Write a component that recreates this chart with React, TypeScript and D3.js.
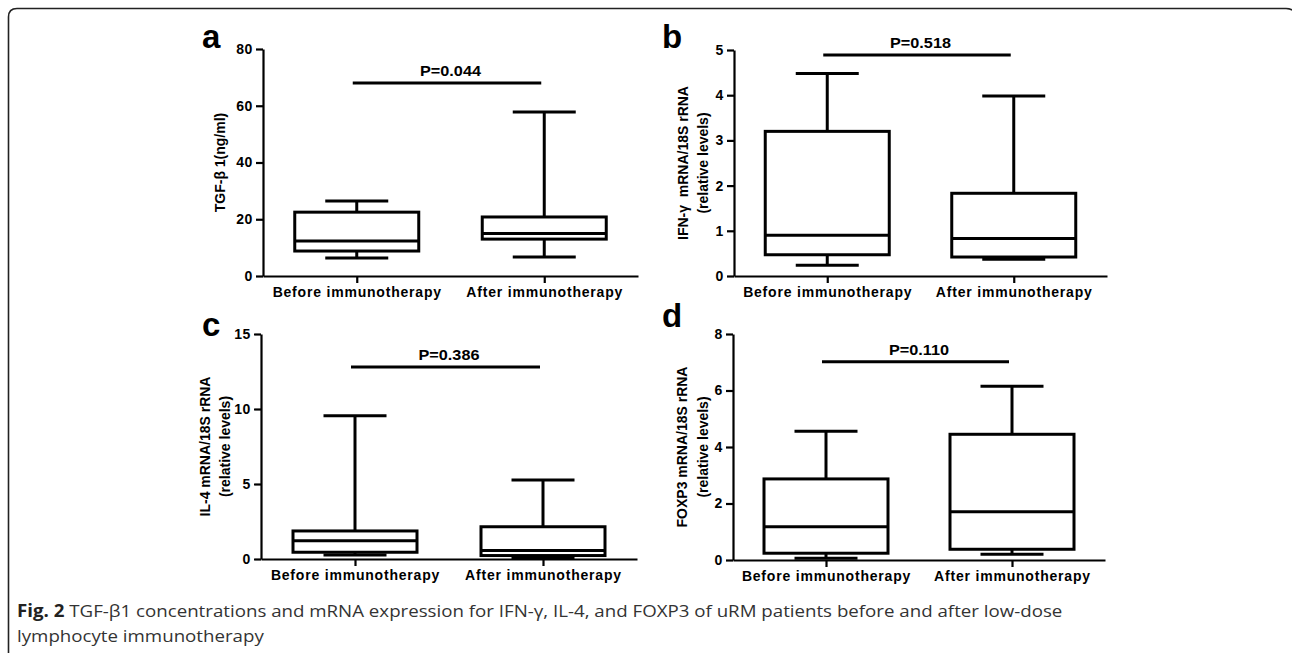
import React, { useEffect, useRef } from 'react';
import * as d3 from 'd3';

const W = 1292;
const H = 653;

const groups = ['Before immunotherapy', 'After immunotherapy'];
const panelLetters = ['a', 'b', 'c', 'd'];
const yLabels = [
  ['TGF-β 1(ng/ml)'],
  ['IFN-γ  mRNA/18S rRNA', '(relative levels)'],
  ['IL-4 mRNA/18S rRNA', '(relative levels)'],
  ['FOXP3 mRNA/18S rRNA', '(relative levels)'],
];
const yMax = [80, 5, 15, 8];
const yTicks = [
  [0, 20, 40, 60, 80],
  [0, 1, 2, 3, 4, 5],
  [0, 5, 10, 15],
  [0, 2, 4, 6, 8],
];
// whisker min / q1 / median / q3 / whisker max, [before, after]
const mins = [[6.3, 6.7], [0.24, 0.37], [0.27, 0.1], [0.06, 0.2]];
const q1s = [[8.8, 13], [0.47, 0.42], [0.45, 0.23], [0.24, 0.38]];
const medians = [[12.3, 15], [0.9, 0.83], [1.22, 0.56], [1.18, 1.71]];
const q3s = [[22.5, 20.8], [3.2, 1.83], [1.87, 2.15], [2.87, 4.45]];
const maxs = [[26.4, 57.8], [4.48, 3.98], [9.55, 5.27], [4.56, 6.15]];
const pLevels = [68, 4.89, 12.8, 7.02];
const pTexts = ['P=0.044', 'P=0.518', 'P=0.386', 'P=0.110'];

const caption1 = 'TGF-β1 concentrations and mRNA expression for IFN-γ, IL-4, and FOXP3 of uRM patients before and after low-dose';
const caption2 = 'lymphocyte immunotherapy';

// frame of each panel: axis x, right end, top, bottom, letter pos, ylabel x
const frames = [
  { x0: 263, x1: 638, top: 49, bot: 276, lx: 202, ly: 48, labX: [220] },
  { x0: 734, x1: 1107, top: 50, bot: 276, lx: 662, ly: 48, labX: [683, 703] },
  { x0: 261, x1: 637, top: 334, bot: 559, lx: 202, ly: 336, labX: [205, 225] },
  { x0: 733, x1: 1105, top: 334, bot: 560, lx: 662, ly: 327, labX: [682, 703] },
];

const font = 'Liberation Sans, Arial, sans-serif';
const sx = 1.1; // the figure is slightly wider than tall

export default function App() {
  const ref = useRef<SVGSVGElement>(null);

  useEffect(() => {
    const svg = d3.select(ref.current);
    svg.selectAll('*').remove();

    // outer rounded frame
    svg
      .append('path')
      .attr('d', 'M8.5,700 L8.5,17 Q8.5,8.5 17,8.5 L1286,8.5 Q1293,8.5 1296,14')
      .attr('fill', 'none')
      .attr('stroke', '#222')
      .attr('stroke-width', 1.6);

    frames.forEach((f, i) => {
      const g = svg.append('g');
      const y = d3.scaleLinear().domain([0, yMax[i]]).range([f.bot, f.top]);
      const x = d3.scalePoint().domain(groups).range([f.x0, f.x1]).padding(0.5);

      const yAxis = g
        .append('g')
        .attr('transform', 'translate(' + f.x0 + ',0)')
        .call(
          d3.axisLeft(y).tickValues(yTicks[i]).tickFormat(d3.format('d')).tickSize(7).tickSizeOuter(0).tickPadding(3)
        );
      const xAxis = g
        .append('g')
        .attr('transform', 'translate(0,' + f.bot + ')')
        .call(d3.axisBottom(x).tickSize(7).tickSizeOuter(0).tickPadding(4));
      [yAxis, xAxis].forEach((a) => {
        a.select('.domain').attr('stroke', '#000').attr('stroke-width', 2.2);
        a.selectAll('.tick line').attr('stroke', '#000').attr('stroke-width', 2.2);
        a.selectAll('.tick text')
          .attr('fill', '#000')
          .style('font-family', font)
          .style('font-weight', 'bold');
      });
      yAxis.selectAll('.tick text').style('font-size', '14px').style('letter-spacing', '0.6px');
      xAxis.selectAll('.tick text').style('font-size', '14px').style('letter-spacing', '0.8px');

      const boxW = 124;
      const capW = 63;
      groups.forEach((grp, j) => {
        const cx = x(grp) as number;
        const bg = g.append('g').attr('stroke', '#000').attr('stroke-width', 3).attr('fill', 'none');
        // whiskers
        bg.append('line').attr('x1', cx).attr('x2', cx).attr('y1', y(maxs[i][j])).attr('y2', y(q3s[i][j]));
        bg.append('line').attr('x1', cx).attr('x2', cx).attr('y1', y(q1s[i][j])).attr('y2', y(mins[i][j]));
        bg.append('line').attr('x1', cx - capW / 2).attr('x2', cx + capW / 2).attr('y1', y(maxs[i][j])).attr('y2', y(maxs[i][j]));
        bg.append('line').attr('x1', cx - capW / 2).attr('x2', cx + capW / 2).attr('y1', y(mins[i][j])).attr('y2', y(mins[i][j]));
        bg.append('rect')
          .attr('x', cx - boxW / 2)
          .attr('width', boxW)
          .attr('y', y(q3s[i][j]))
          .attr('height', y(q1s[i][j]) - y(q3s[i][j]))
          .attr('fill', '#fff');
        bg.append('line').attr('x1', cx - boxW / 2).attr('x2', cx + boxW / 2).attr('y1', y(medians[i][j])).attr('y2', y(medians[i][j]));
      });

      // significance bar
      const px0 = x(groups[0]) as number;
      const px1 = x(groups[1]) as number;
      g.append('line')
        .attr('x1', px0 - 4)
        .attr('x2', px1 - 3)
        .attr('y1', y(pLevels[i]))
        .attr('y2', y(pLevels[i]))
        .attr('stroke', '#000')
        .attr('stroke-width', 3);
      g.append('text')
        .attr('transform', 'translate(' + (px0 + px1) / 2 + ',' + (y(pLevels[i]) - 7) + ') scale(1.12,1)')
        .attr('text-anchor', 'middle')
        .style('font-family', font)
        .style('font-weight', 'bold')
        .style('font-size', '14.5px')
        .text(pTexts[i]);

      // panel letter
      g.append('text')
        .attr('x', f.lx)
        .attr('y', f.ly)
        .style('font-family', font)
        .style('font-weight', 'bold')
        .style('font-size', '33px')
        .text(panelLetters[i]);

      // y label
      const cy = (f.top + f.bot) / 2;
      yLabels[i].forEach((t, k) => {
        g.append('text')
          .attr('transform', 'translate(' + f.labX[k] + ',' + cy + ') scale(' + sx + ',1) rotate(-90)')
          .attr('text-anchor', 'middle')
          .attr('dominant-baseline', 'central')
          .style('white-space', 'pre')
          .style('font-family', font)
          .style('font-weight', 'bold')
          .style('font-size', '14px')
          .text(t);
      });
    });

    const cap = svg
      .append('text')
      .attr('transform', 'translate(17,617) scale(' + sx + ',1)')
      .style('font-family', 'Open Sans, Noto Sans, sans-serif')
      .style('font-size', '17px')
      .attr('fill', '#333');
    cap.append('tspan').style('font-weight', 'bold').attr('fill', '#222').text('Fig. 2');
    cap.append('tspan').text(' ' + caption1);
    svg
      .append('text')
      .attr('transform', 'translate(17,642) scale(' + sx + ',1)')
      .style('font-family', 'Open Sans, Noto Sans, sans-serif')
      .style('font-size', '17px')
      .attr('fill', '#333')
      .text(caption2);
  }, []);

  return (
    <svg
      ref={ref}
      width={W}
      height={H}
      style={{ position: 'absolute', left: 0, top: 0, background: '#fff' }}
    />
  );
}
